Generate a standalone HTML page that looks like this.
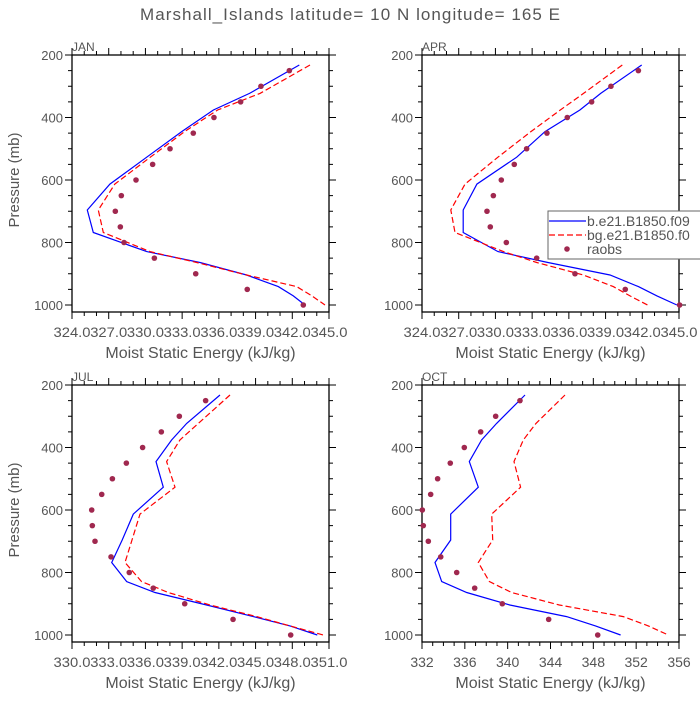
<!DOCTYPE html>
<html><head><meta charset="utf-8"><style>
body{margin:0;background:#fff}
svg text{font-family:"Liberation Sans",sans-serif;fill:#555}
</style></head><body>
<svg id="c" width="700" height="700" xmlns="http://www.w3.org/2000/svg">
<text x="350" y="20" text-anchor="middle" font-size="17" textLength="420" lengthAdjust="spacing">Marshall_Islands  latitude= 10 N longitude= 165 E</text>
<text transform="translate(19,180) rotate(-90)" text-anchor="middle" font-size="15">Pressure (mb)</text>
<text transform="translate(19,510) rotate(-90)" text-anchor="middle" font-size="15">Pressure (mb)</text>
</svg>
<script>
const modelP=[232,323,376,445,527,613,696,768,829,864,904,941,971,1000];
const obsP=[250,300,350,400,450,500,550,600,650,700,750,800,850,900,950,1000];
const janBlue=[342.57,338.5,335.55,332.96,330.10,327.10,325.25,325.74,330.10,334.46,338.27,340.86,342.08,343.04];
const janRed=[343.45,339.36,335.9,333.2,330.4,327.5,326.15,326.56,330.37,334.19,338.27,342.36,343.6,344.67];
const janObs=[341.76,339.44,337.78,335.60,333.91,332.01,330.59,329.23,328.03,327.54,327.95,328.25,330.73,334.11,338.32,342.90];
const aprBlue=[341.95,338.6,336.9,334.05,331.74,328.49,327.37,327.37,330.21,334.29,339.36,341.68,343.20,344.83];
const aprRed=[340.37,337.2,335.3,332.9,330.2,327.51,326.35,326.70,330.66,333.37,337.18,339.63,341.0,342.43];
const aprObs=[341.68,339.44,337.86,335.87,334.21,332.55,331.54,330.48,329.83,329.31,329.58,330.89,333.37,336.50,340.61,345.05];
const julBlue=[342.09,339.37,338.14,336.86,337.46,335.01,334.1,333.24,334.47,336.78,341.0,344.81,347.81,350.04];
const julRed=[342.91,340.32,338.82,337.73,338.42,335.56,334.9,334.33,335.69,337.87,341.28,345.09,347.81,350.53];
const julObs=[340.92,338.77,337.30,335.77,334.44,333.30,332.43,331.61,331.66,331.88,333.19,334.68,336.64,339.21,343.16,347.87];
const octBlue=[341.62,338.97,337.57,336.42,337.26,334.68,334.68,333.21,333.84,336.17,340.2,345.5,348.2,350.55];
const octRed=[345.35,342.65,341.46,340.59,341.21,338.51,338.60,337.26,338.29,340.37,344.82,350.80,353.13,355.0];
const octObs=[341.15,338.88,337.48,335.95,334.64,333.46,332.81,332.03,332.12,332.59,333.75,335.24,336.92,339.50,343.83,348.41];
const yTicks=[200,400,600,800,1000];
const janTicks=[324,327,330,333,336,339,342,345];
const julTicks=[330,333,336,339,342,345,348,351];
const octTicks=[332,336,340,344,348,352,356];

const NS="http://www.w3.org/2000/svg";
const svg=document.getElementById('c');
function mk(tag,attrs,parent){const e=document.createElementNS(NS,tag);for(const k in attrs)e.setAttribute(k,attrs[k]);(parent||svg).appendChild(e);return e;}

function panel(name,L,T,xmin,xmax,major,minorStep,ticks,decimals,blue,red,obs,legend){
  const W=257,H=257;
  const g=mk('g',{});
  
  
  const xs=v=>L+(v-xmin)/(xmax-xmin)*W;
  const ys=p=>T+(p-200)*250/800;
  for(let v=xmin;v<=xmax+1e-9;v+=minorStep){
    const x=xs(v);const isMaj=Math.abs(((v-xmin)/major)-Math.round((v-xmin)/major))<1e-6;
    const len=isMaj?7:4;
    mk('line',{x1:x,x2:x,y1:T,y2:T-len,stroke:'#000','stroke-width':1},g);
    mk('line',{x1:x,x2:x,y1:T+H,y2:T+H+len,stroke:'#000','stroke-width':1},g);
  }
  for(let p=200;p<=1000;p+=50){
    const y=ys(p);const len=(p%200===0)?7:4;
    mk('line',{x1:L,x2:L-len,y1:y,y2:y,stroke:'#000','stroke-width':1},g);
    mk('line',{x1:L+W,x2:L+W+len,y1:y,y2:y,stroke:'#000','stroke-width':1},g);
  }
  const fr=mk('rect',{x:L,y:T,width:W,height:H,fill:'none',stroke:'#000','stroke-width':1.3},g);
  
  
  yTicks.forEach(p=>{
    const t=mk('text',{x:L-9,y:ys(p)+5,'text-anchor':'end','font-size':13},g);
    
    
    t.textContent=p;
  });
  ticks.forEach(v=>{
    const s=v.toFixed(decimals);
    const attrs={x:xs(v),y:T+282,'text-anchor':'middle','font-size':14};
    if(decimals>0){attrs.textLength=37;attrs.lengthAdjust='spacingAndGlyphs';}
    const t=mk('text',attrs,g);
    
    
    t.textContent=s;
  });
  const xt=mk('text',{x:L+W/2,y:T+303,'text-anchor':'middle','font-size':16},g);
  
  
  xt.textContent='Moist Static Energy (kJ/kg)';
  const pl=mk('text',{x:L,y:T-4,'font-size':12},g);
  
  
  pl.textContent=name.toUpperCase();
  const pts=a=>a.map((v,i)=>xs(v).toFixed(1)+','+ys(modelP[i]).toFixed(1)).join(' ');
  const b=mk('polyline',{points:pts(blue),fill:'none',stroke:'#0000ff','stroke-width':1.2},g);
  
  
  const r=mk('polyline',{points:pts(red),fill:'none',stroke:'#ff0000','stroke-width':1.2,'stroke-dasharray':'6,3'},g);
  
  
  obs.forEach((v,i)=>{
    const c=mk('circle',{cx:xs(v),cy:ys(obsP[i]),r:2.8,fill:'#a0284f'},g);
    
    
  });
  if(legend){
    const lg=mk('g',{},g);
    
    
    mk('rect',{x:548,y:211,width:160,height:48,fill:'#fff',stroke:'#666','stroke-width':1},lg);
    mk('line',{x1:549,x2:586,y1:221,y2:221,stroke:'#0000ff','stroke-width':1.2},lg);
    mk('line',{x1:549,x2:586,y1:235,y2:235,stroke:'#ff0000','stroke-width':1.2,'stroke-dasharray':'6,3'},lg);
    mk('circle',{cx:567,cy:249,r:2.8,fill:'#a0284f'},lg);
    const e=[['b.e21.B1850.f09',226],['bg.e21.B1850.f0',240],['raobs',254]];
    e.forEach(([s,y])=>{const t=mk('text',{x:587,y:y,'font-size':14},lg);
      
      
      t.textContent=s;});
  }
}
panel('jan',72,55,324,345,3,1,janTicks,1,janBlue,janRed,janObs,false);
panel('apr',422,55,324,345,3,1,janTicks,1,aprBlue,aprRed,aprObs,true);
panel('jul',72,385,330,351,3,1,julTicks,1,julBlue,julRed,julObs,false);
panel('oct',422,385,332,356,4,1,octTicks,0,octBlue,octRed,octObs,false);
</script>
</body></html>
